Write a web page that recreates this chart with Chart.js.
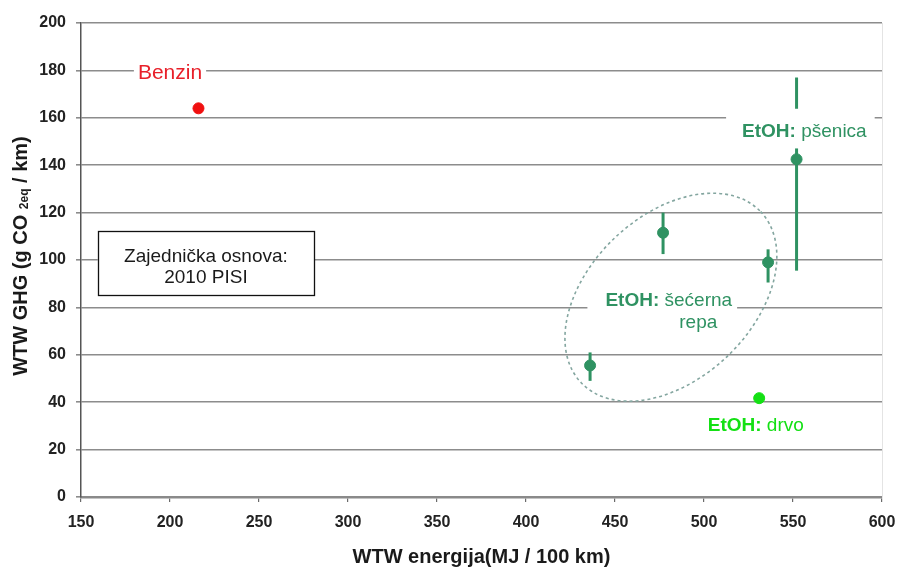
<!DOCTYPE html>
<html>
<head>
<meta charset="utf-8">
<script src="https://cdn.jsdelivr.net/npm/chart.js@4.4.1/dist/chart.umd.min.js"></script>
<style>
  html, body { margin: 0; padding: 0; background: #ffffff; }
  #wrap { width: 898px; height: 567px; position: relative; }
</style>
</head>
<body>
<div id="wrap"><canvas id="c" width="898" height="567"></canvas></div>
<script>
// Axis ranges and tick steps
const xRange = [150, 600];
const xStep = 50;
const yRange = [0, 200];
const yStep = 20;

// Petrol reference point
const benzinX = [216];
const benzinY = [164];

// Ethanol from wheat (value with min/max range)
const wheatX = [552];
const wheatY = [142.5];
const wheatLow = [95.5];
const wheatHigh = [177];

// Ethanol from sugar beet (values with min/max ranges)
const beetX = [436, 477, 536];
const beetY = [55.5, 111.5, 99];
const beetLow = [49, 102.5, 90.5];
const beetHigh = [61, 120, 104.5];

// Ethanol from wood
const woodX = [531];
const woodY = [41.7];

// Text labels
const axisTitleX = 'WTW energija(MJ / 100 km)';
const axisTitleY = ['WTW GHG (g CO ', '2eq', ' / km)'];
const noteLines = ['Zajednička osnova:', '2010 PISI'];

const GREEN = '#2f9262';
const LIME = '#14e014';
const RED = '#f01010';
const FONT = '"Liberation Sans", Arial, Helvetica, sans-serif';

// Error bar datasets: one short vertical line per ranged value
function rangeSets(xs, lows, highs, color) {
  return xs.map((x, i) => ({
    type: 'line',
    data: [{ x: x, y: lows[i] }, { x: x, y: highs[i] }],
    borderColor: color,
    borderWidth: 3,
    pointRadius: 0,
    pointHoverRadius: 0,
    fill: false,
    order: 2
  }));
}
function pts(xs, ys) { return xs.map((x, i) => ({ x: x, y: ys[i] })); }

const datasets = [
  ...rangeSets(wheatX, wheatLow, wheatHigh, GREEN),
  ...rangeSets(beetX, beetLow, beetHigh, GREEN),
  { label: 'Benzin', data: pts(benzinX, benzinY), backgroundColor: RED, borderColor: RED, pointRadius: 5.5, order: 1 },
  { label: 'EtOH: pšenica', data: pts(wheatX, wheatY), backgroundColor: GREEN, borderColor: GREEN, pointRadius: 5.5, order: 1 },
  { label: 'EtOH: šećerna repa', data: pts(beetX, beetY), backgroundColor: GREEN, borderColor: GREEN, pointRadius: 5.5, order: 1 },
  { label: 'EtOH: drvo', data: pts(woodX, woodY), backgroundColor: LIME, borderColor: LIME, pointRadius: 5.5, order: 1 }
];

// Dashed grouping ellipse around sugar beet values: centre, end of long axis, end of short axis
const ringCentre = [481.4, 84.3];
const ringMajor = [531.8, 120.4];
const ringMinor = [513, 59.3];

// Series captions: bold prefix, plain text, anchor (centre of first line), white backing box padding
const captions = [
  { bold: '', plain: ['Benzin'], at: [200, 179.6], color: '#e8202a', size: 21, pad: [4, 4, 6, 6] },
  { bold: 'EtOH:', plain: ['pšenica'], at: [556.4, 154.6], color: GREEN, size: 19, pad: [16, 8, 15, 11] },
  { bold: 'EtOH:', plain: ['šećerna', 'repa'], at: [480.2, 83.4], color: GREEN, size: 19, pad: [18, 5, 8, 4] },
  { bold: 'EtOH:', plain: ['drvo'], at: [529.1, 30.8], color: LIME, size: 19, pad: null }
];

// Note box corners (data units)
const noteBox = [159.4, 112.1, 281, 85];

const overlay = {
  id: 'overlay',
  afterDatasetsDraw(chart) {
    const ctx = chart.ctx;
    const xs = chart.scales.x, ys = chart.scales.y;
    const px = v => xs.getPixelForValue(v);
    const py = v => ys.getPixelForValue(v);

    // faint right edge
    ctx.save();
    ctx.strokeStyle = '#e4e4e4';
    ctx.lineWidth = 1;
    ctx.beginPath();
    ctx.moveTo(Math.round(chart.chartArea.right) + 0.5, chart.chartArea.top);
    ctx.lineTo(Math.round(chart.chartArea.right) + 0.5, chart.chartArea.bottom);
    ctx.stroke();
    ctx.restore();

    // dashed ellipse
    const cx = px(ringCentre[0]), cy = py(ringCentre[1]);
    const mx = px(ringMajor[0]) - cx, my = py(ringMajor[1]) - cy;
    const nx = px(ringMinor[0]) - cx, ny = py(ringMinor[1]) - cy;
    ctx.save();
    ctx.strokeStyle = '#84a6a0';
    ctx.lineWidth = 1.6;
    ctx.setLineDash([3, 3]);
    ctx.beginPath();
    ctx.ellipse(cx, cy, Math.hypot(mx, my), Math.hypot(nx, ny), Math.atan2(my, mx), 0, Math.PI * 2);
    ctx.stroke();
    ctx.restore();

    // captions
    captions.forEach(c => {
      const size = c.size;
      const boldFont = 'bold ' + size + 'px ' + FONT;
      const plainFont = size + 'px ' + FONT;
      ctx.save();
      ctx.font = boldFont;
      const bw = c.bold ? ctx.measureText(c.bold + ' ').width : 0;
      ctx.font = plainFont;
      const pw = ctx.measureText(c.plain[0]).width;
      const total = bw + pw;
      const ax = px(c.at[0]), ay = py(c.at[1]);
      const left = ax - total / 2;
      const capTop = ay - size * 0.36;
      const base = ay + size * 0.36;
      const lineGap = size * 1.15;
      const nLines = c.plain.length;
      if (c.pad) {
        ctx.fillStyle = '#ffffff';
        const top = capTop - c.pad[2];
        const bottom = base + (nLines - 1) * lineGap + c.pad[3];
        ctx.fillRect(left - c.pad[0], top, total + c.pad[0] + c.pad[1], bottom - top);
      }
      ctx.fillStyle = c.color;
      ctx.textBaseline = 'alphabetic';
      if (c.bold) {
        ctx.font = boldFont;
        ctx.textAlign = 'left';
        ctx.fillText(c.bold, left, base);
      }
      ctx.font = plainFont;
      ctx.textAlign = 'center';
      const mid = left + bw + pw / 2;
      c.plain.forEach((t, i) => ctx.fillText(t, mid, base + i * lineGap));
      ctx.restore();
    });

    // note box
    const l = px(noteBox[0]), t = py(noteBox[1]), r = px(noteBox[2]), b = py(noteBox[3]);
    ctx.save();
    ctx.fillStyle = '#ffffff';
    ctx.fillRect(l, t, r - l, b - t);
    ctx.strokeStyle = '#111111';
    ctx.lineWidth = 1.3;
    ctx.strokeRect(Math.round(l) + 0.5, Math.round(t) + 0.5, Math.round(r - l), Math.round(b - t));
    ctx.fillStyle = '#1a1a1a';
    ctx.font = '19px ' + FONT;
    ctx.textAlign = 'center';
    ctx.textBaseline = 'alphabetic';
    ctx.fillText(noteLines[0], (l + r) / 2, t + 31);
    ctx.fillText(noteLines[1], (l + r) / 2, t + 52);
    ctx.restore();
  },
  afterDraw(chart) {
    const ctx = chart.ctx;
    const area = chart.chartArea;
    ctx.save();
    ctx.fillStyle = '#1a1a1a';
    // x axis title
    ctx.font = 'bold 20px ' + FONT;
    ctx.textAlign = 'center';
    ctx.textBaseline = 'alphabetic';
    ctx.fillText(axisTitleX, (area.left + area.right) / 2, 563);
    // y axis title with subscript
    const big = 'bold 20px ' + FONT, small = 'bold 12px ' + FONT;
    ctx.font = big;
    const w0 = ctx.measureText(axisTitleY[0]).width;
    const w2 = ctx.measureText(axisTitleY[2]).width;
    ctx.font = small;
    const w1 = ctx.measureText(axisTitleY[1]).width;
    const total = w0 + w1 + w2;
    ctx.translate(27, 256);
    ctx.rotate(-Math.PI / 2);
    ctx.textAlign = 'left';
    let x0 = -total / 2;
    ctx.font = big;
    ctx.fillText(axisTitleY[0], x0, 0);
    ctx.font = small;
    ctx.fillText(axisTitleY[1], x0 + w0, 1);
    ctx.font = big;
    ctx.fillText(axisTitleY[2], x0 + w0 + w1, 0);
    ctx.restore();
  }
};

new Chart(document.getElementById('c'), {
  type: 'scatter',
  data: { datasets: datasets },
  options: {
    responsive: false,
    animation: false,
    devicePixelRatio: 1,
    layout: { padding: { top: 23, right: 16, left: 0, bottom: 0 } },
    plugins: { legend: { display: false }, tooltip: { enabled: false } },
    scales: {
      x: {
        type: 'linear',
        min: xRange[0], max: xRange[1],
        afterFit(s) { s.height = 70; s.paddingLeft = 0; s.paddingRight = 0; },
        ticks: { stepSize: xStep, color: '#222222', padding: 11, font: { family: FONT, size: 16, weight: 'bold' } },
        grid: { drawOnChartArea: false, drawTicks: true, tickLength: 5, color: '#6a6a6a', lineWidth: 1.2 },
        border: { display: true, color: '#8a8a8a', width: 2.5 }
      },
      y: {
        type: 'linear',
        min: yRange[0], max: yRange[1],
        afterFit(s) { s.width = 81; s.paddingTop = 0; s.paddingBottom = 0; },
        ticks: { stepSize: yStep, color: '#222222', padding: 10, font: { family: FONT, size: 16, weight: 'bold' } },
        grid: { drawTicks: true, tickLength: 5, color: '#8c8c8c', lineWidth: 1.6 },
        border: { display: true, color: '#555555', width: 1.5 }
      }
    }
  },
  plugins: [overlay]
});
</script>
</body>
</html>
